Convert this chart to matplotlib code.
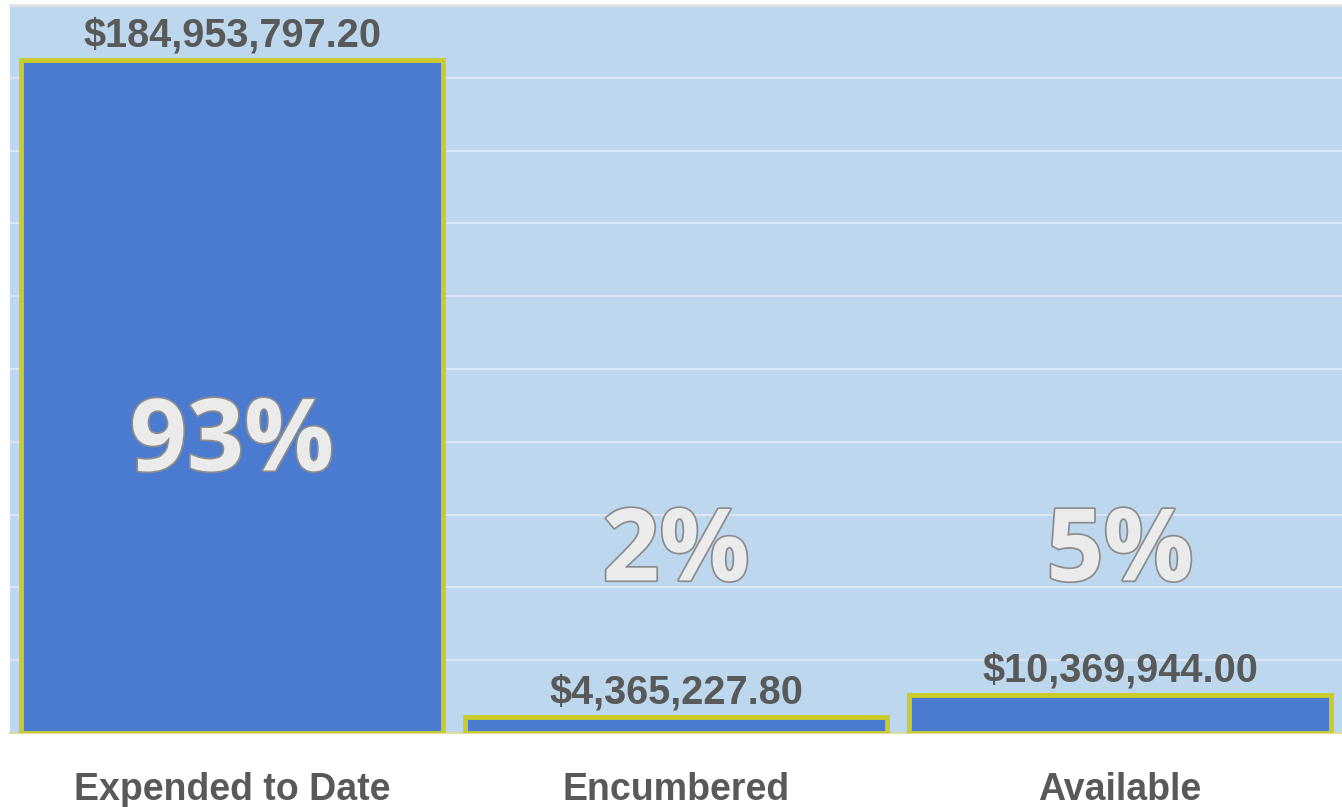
import matplotlib.pyplot as plt
import matplotlib.patheffects as pe

categories = ["Expended to Date", "Encumbered", "Available"]
amounts = [184953797.20, 4365227.80, 10369944.00]
pct_heights = [0.397, 0.246, 0.246]  # label position, axes fraction

total = sum(amounts)
percents = [round(a / total * 100) for a in amounts]

fig = plt.figure(figsize=(13.42, 8.07), dpi=100)
ax = fig.add_axes([10 / 1342, 74 / 807, 1332 / 1342, 728 / 807])
ax.set_facecolor('#bdd7ee')

x = range(len(categories))
bars = ax.bar(x, amounts, width=0.95, color='#4a7bd1',
              edgecolor='#c9cc2a', linewidth=3.5, zorder=3)

ax.set_xlim(-0.5, 2.5)
ax.set_ylim(0, 200e6)
ax.set_yticks([i * 20e6 for i in range(11)])
ax.yaxis.grid(True, color='#dce6f4', linewidth=1.5, zorder=0)
ax.set_yticklabels([])
ax.tick_params(axis='both', length=0)
ax.set_xticks(list(x))
ax.set_xticklabels(categories, fontsize=27, fontweight='bold',
                   color='#595959', family='Liberation Sans')
ax.tick_params(axis='x', pad=28)

for side in ['left', 'right', 'top']:
    ax.spines[side].set_visible(False)
ax.spines['bottom'].set_color('#d8dca0')
ax.spines['bottom'].set_linewidth(1.5)
fig.add_artist(plt.Line2D([10 / 1342, 1], [802 / 807, 802 / 807],
                          color='#e2e2e2', linewidth=2))

for i, a in enumerate(amounts):
    ax.annotate('${:,.2f}'.format(a), (i, a), xytext=(0, 4),
                textcoords='offset points', ha='center', va='bottom',
                fontsize=28.5, fontweight='bold', color='#595959',
                family='Liberation Sans', zorder=5)
    ax.text(i, pct_heights[i], '{}%'.format(percents[i]),
            transform=ax.get_xaxis_transform(), ha='center', va='center',
            fontsize=72, fontweight='bold', color='#ebebeb',
            family='Open Sans', zorder=5,
            path_effects=[pe.withStroke(linewidth=2.5, foreground='#8c8c8c')])

fig.savefig('out.png', dpi=100)
